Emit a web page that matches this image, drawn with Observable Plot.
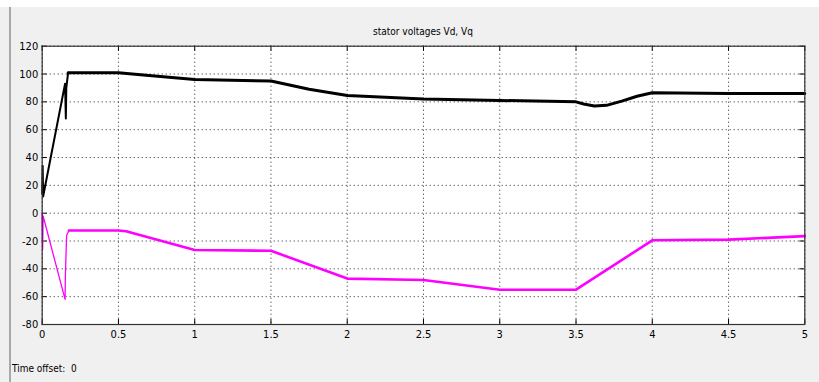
<!DOCTYPE html>
<html>
<head>
<meta charset="utf-8">
<script src="https://cdn.jsdelivr.net/npm/d3@7"></script>
<script src="https://cdn.jsdelivr.net/npm/@observablehq/plot@0.6"></script>
<style>
  html, body { margin: 0; padding: 0; }
  body { width: 819px; height: 382px; background: #f0f0f0; position: relative; overflow: hidden;
         font-family: "Liberation Sans Narrow", "DejaVu Sans", sans-serif; font-stretch: condensed; }
  #topstrip { position: absolute; left: 0; top: 0; width: 819px; height: 7px; background: #ffffff; }
  #edge { position: absolute; left: 9px; top: 7px; width: 2px; height: 375px; background: #a8a8a8; }
  #title { position: absolute; left: 41.7px; width: 762.6px; top: 26px; text-align: center; font-size: 10px; color: #000; }
  #offset { position: absolute; left: 12px; top: 363px; font-size: 10px; color: #000; }
  #chart { position: absolute; left: 0; top: 0; }
  #chart svg text { font-stretch: condensed; }
</style>
</head>
<body>
<div id="topstrip"></div>
<div id="edge"></div>
<div id="chart"></div>
<div id="title">stator voltages Vd, Vq</div>
<div id="offset">Time offset:&nbsp; 0</div>
<script>
// Vd (black): start-up ramp and the rest
const vdStartTime = [0, 0.003, 0.006, 0.15, 0.155, 0.158, 0.17];
const vdStartValue = [14, 34, 12, 93, 68, 90, 101];
const vdTime = [0.17, 0.5, 0.7, 1.0, 1.5, 1.75, 2.0, 2.5, 3.0, 3.5, 3.55, 3.62, 3.7, 3.8, 3.9, 4.0, 4.5, 5.0];
const vdValue = [101, 101, 99, 96, 95, 89, 84.5, 82, 81, 80, 78.5, 77, 77.5, 80.5, 84, 86.5, 86, 86];
// Vq (magenta): start-up ramp and the rest
const vqStartTime = [0, 0.003, 0.006, 0.15, 0.152, 0.16, 0.175];
const vqStartValue = [0, -26, -2, -62, -45, -16, -12.5];
const vqTime = [0.175, 0.5, 0.55, 1.0, 1.5, 2.0, 2.5, 3.0, 3.5, 4.0, 4.5, 5.0];
const vqValue = [-12.5, -12.5, -13, -26.5, -27, -47, -48, -55, -55, -19.5, -19, -16.5];
// ticks
const xTicks = [0, 0.5, 1, 1.5, 2, 2.5, 3, 3.5, 4, 4.5, 5];
const yTicks = [-80, -60, -40, -20, 0, 20, 40, 60, 80, 100, 120];

const pts = (ts, vs) => ts.map((t, i) => ({t, v: vs[i]}));
const vdStart = pts(vdStartTime, vdStartValue), vd = pts(vdTime, vdValue);
const vqStart = pts(vqStartTime, vqStartValue), vq = pts(vqTime, vqValue);

const W = 819, H = 382;
const mL = 41.7, mR = 14.7, mT = 45.7, mB = 58;
const plotW = W - mL - mR, plotH = H - mT - mB;
const tickLen = 5;
const fontFam = '"Liberation Sans Narrow", "DejaVu Sans", sans-serif';

const chart = Plot.plot({
  width: W, height: H,
  marginLeft: mL, marginRight: mR, marginTop: mT, marginBottom: mB,
  style: { background: "transparent", fontFamily: fontFam, fontSize: "11px", color: "#000" },
  x: { domain: [0, 5] },
  y: { domain: [-80, 120] },
  marks: [
    Plot.frame({ fill: "white", stroke: null }),
    Plot.gridX(xTicks, { stroke: "#000", strokeOpacity: 0.85, strokeDasharray: "1,3" }),
    Plot.gridY(yTicks, { stroke: "#000", strokeOpacity: 0.85, strokeDasharray: "1,3" }),
    Plot.tickX(xTicks, { x: d => d, insetTop: plotH - tickLen, stroke: "#000" }),
    Plot.tickX(xTicks, { x: d => d, insetBottom: plotH - tickLen, stroke: "#000" }),
    Plot.tickY(yTicks, { y: d => d, insetLeft: plotW - tickLen, stroke: "#000" }),
    Plot.tickY(yTicks, { y: d => d, insetRight: plotW - tickLen, stroke: "#000" }),
    Plot.line(vqStart, { x: "t", y: "v", stroke: "#ff00ff", strokeWidth: 1.3, strokeLinejoin: "round" }),
    Plot.line(vq, { x: "t", y: "v", stroke: "#ff00ff", strokeWidth: 2.6, strokeLinejoin: "round" }),
    Plot.line(vdStart, { x: "t", y: "v", stroke: "#000000", strokeWidth: 2, strokeLinejoin: "round" }),
    Plot.line(vd, { x: "t", y: "v", stroke: "#000000", strokeWidth: 3, strokeLinejoin: "round" }),
    Plot.frame({ stroke: "#333", strokeWidth: 1.2 }),
    Plot.axisX(xTicks, { tickSize: 0, tickPadding: 6, tickFormat: d => String(d), label: null, fontSize: 11 }),
    Plot.axisY(yTicks, { tickSize: 0, tickPadding: 4, tickFormat: d => String(d), label: null, fontSize: 11 })
  ]
});
document.getElementById("chart").appendChild(chart);
</script>
</body>
</html>
